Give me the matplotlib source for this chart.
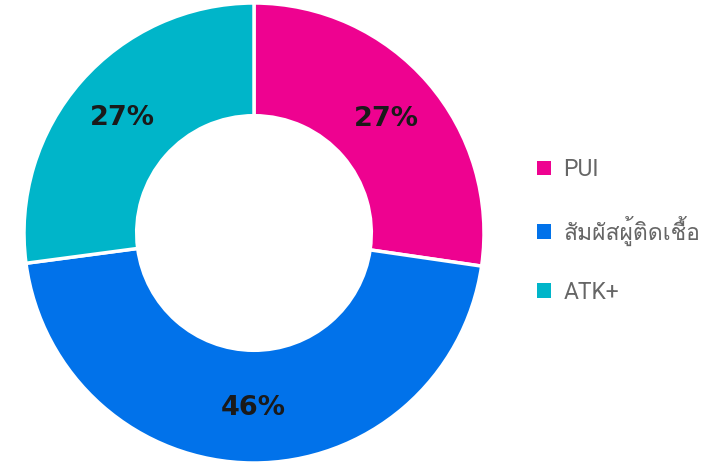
import matplotlib
matplotlib.use("Agg")
import matplotlib.pyplot as plt
from matplotlib import font_manager
from matplotlib.ft2font import FT2Font
from matplotlib.patches import Patch

categories = ["PUI", "สัมผัสผู้ติดเชื้อ", "ATK+"]
values = [27.3, 45.6, 27.1]
colors = ["#EE0290", "#0172EA", "#00B5C9"]

# find a family that has Thai glyphs
thai_family = None
for fe in font_manager.fontManager.ttflist:
    try:
        f = FT2Font(fe.fname)
        if f.get_char_index(ord("ส")) and f.get_char_index(ord("ผ")):
            thai_family = fe.name
            break
    except Exception:
        pass
fams = ["Roboto"] + ([thai_family] if thai_family else []) + ["DejaVu Sans"]

fig = plt.figure(figsize=(7.17, 4.65), dpi=100)
ax = fig.add_axes([24/717, 2/465, 460/717, 460/465])

wedges, texts, autotexts = ax.pie(
    values, colors=colors, startangle=90, counterclock=False,
    radius=1.0, autopct="%.0f%%", pctdistance=0.76,
    wedgeprops=dict(width=0.49, edgecolor="white", linewidth=2.5),
    textprops=dict(family="DejaVu Sans", fontweight="bold", fontsize=19.5, color="#1a1a1a"),
)
ax.set_xlim(-1, 1)
ax.set_ylim(-1, 1)
ax.set_aspect("equal")
ax.axis("off")

handles = [Patch(facecolor=c, edgecolor="none") for c in colors]
leg = fig.legend(
    handles, categories, loc="center left", bbox_to_anchor=(528/717, 234/465),
    borderaxespad=0, frameon=False, handlelength=0.62, handleheight=0.62,
    handletextpad=0.53, labelspacing=1.52, prop=dict(family=fams, size=16.5),
)
for t in leg.get_texts():
    t.set_color("#666666")

fig.savefig("out.png", dpi=100)
